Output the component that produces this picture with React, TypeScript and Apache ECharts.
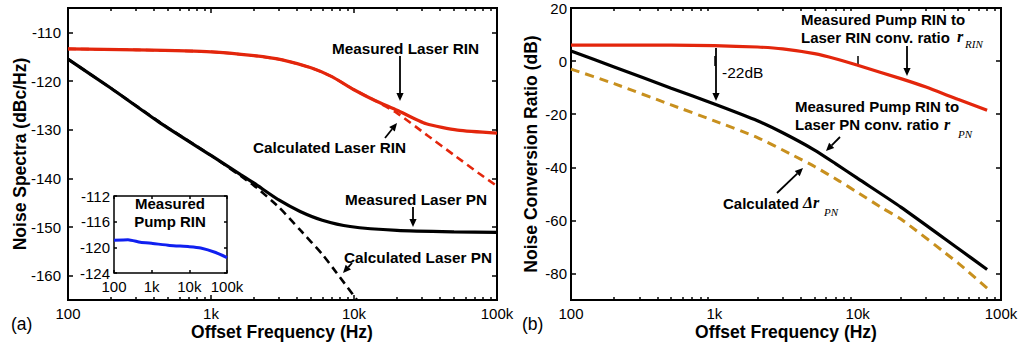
import React, { useEffect, useRef } from 'react';
import * as echarts from 'echarts';

// ---------- Axes ticks ----------
const freqTicks = [100, 1000, 10000, 100000];
const freqTickLabels = ['100', '1k', '10k', '100k'];
const freqMinor = [
  200, 300, 400, 500, 600, 700, 800, 900,
  2000, 3000, 4000, 5000, 6000, 7000, 8000, 9000,
  20000, 30000, 40000, 50000, 60000, 70000, 80000, 90000,
];
const leftYTicks = [-160, -150, -140, -130, -120, -110];
const insetYTicks = [-124, -120, -116, -112];
const rightYTicks = [-80, -60, -40, -20, 0, 20];

// ---------- Panel (a) data ----------
const rinMeasF = [100, 300, 1000, 2000, 3200, 5000, 7000, 10000, 14000, 20000, 32000, 53000, 100000];
const rinMeas = [-113.4, -113.6, -114, -114.8, -115.7, -117.3, -119.1, -121.8, -124, -126, -128.8, -130.1, -130.7];
const rinCalcF = [100, 300, 1000, 2000, 3200, 5000, 7000, 10000, 14000, 20000, 33000, 50000, 75000, 100000];
const rinCalc = [-113.4, -113.6, -114, -114.8, -115.7, -117.3, -119.1, -121.8, -124, -126.6, -131.3, -135.2, -139, -141.6];
const pnMeasF = [100, 200, 440, 1000, 1600, 2000, 3000, 4200, 6000, 9400, 20000, 50000, 100000];
const pnMeas = [-115.5, -121.5, -128.6, -135.3, -139.2, -141, -144.5, -146.8, -148.6, -149.9, -150.7, -151, -151.1];
const pnCalcF = [100, 200, 500, 1000, 2000, 3000, 4200, 6000, 7200, 10500];
const pnCalc = [-115.5, -121.5, -129.6, -135.3, -141.5, -146, -150.6, -155.6, -158.6, -165];
const pumpF = [100, 235, 500, 1070, 3000, 10000, 20000, 50000, 100000];
const pumpRin = [-118.9, -118.8, -119.2, -119.4, -119.7, -119.9, -120.1, -120.8, -121.6];

// ---------- Panel (b) data ----------
const rRinF = [100, 500, 1000, 2000, 3000, 5000, 7000, 10000, 20000, 30000, 50000, 80000];
const rRin = [6, 6, 5.8, 5.3, 4.6, 2.8, 0.9, -1.6, -6.6, -9.8, -14.4, -18.5];
const rPnF = [100, 200, 500, 1000, 2000, 3000, 5000, 7000, 10000, 20000, 50000, 80000];
const rPn = [3.8, -2.2, -10.2, -16.2, -22.5, -27, -33.5, -38.6, -44.2, -55, -70.5, -78.5];
const dPnF = [100, 200, 500, 1000, 2000, 3400, 5000, 7500, 10000, 15000, 20000, 50000, 80000];
const dPn = [-3, -8.5, -16.5, -22.5, -28.8, -35, -39.7, -45.3, -49.5, -55.5, -59.5, -76, -85.5];

const RED = '#e3260c';
const GOLD = '#c8901e';
const BLUE = '#1020f0';
const SANS = '"Liberation Sans", Arial, Helvetica, sans-serif';
const SERIF = '"Liberation Serif", "Times New Roman", serif';
const ANN_L = `bold 15.3px ${SANS}`;
const ANN_R = `bold 15px ${SANS}`;
const TITLE = `bold 17.5px ${SANS}`;

const lg = (v: number) => Math.log10(v);
const fmtFreq = (v: number) => {
  for (let i = 0; i < freqTicks.length; i++) {
    if (Math.abs(lg(freqTicks[i]) - v) < 1e-6) return freqTickLabels[i];
  }
  return '';
};
const pts = (f: number[], v: number[]) => f.map((x, i) => [lg(x), v[i]]);

function arrow(x1: number, y1: number, x2: number, y2: number) {
  const a = Math.atan2(y2 - y1, x2 - x1);
  const L = 8, W = 3.6;
  const bx = x2 - L * Math.cos(a), by = y2 - L * Math.sin(a);
  const px = -Math.sin(a) * W, py = Math.cos(a) * W;
  return [
    { type: 'line', z: 100, shape: { x1, y1, x2: bx, y2: by }, style: { stroke: '#000', lineWidth: 1.8 } },
    { type: 'polygon', z: 100, shape: { points: [[x2, y2], [bx + px, by + py], [bx - px, by - py]] }, style: { fill: '#000' } },
  ];
}

function txt(text: string, x: number, y: number, font = ANN_L, align = 'left', rotation = 0) {
  return {
    type: 'text', z: 100, x, y, rotation,
    style: { text, font, fill: '#000', align, verticalAlign: 'middle' },
  };
}

function buildOption() {
  const xAxes: any[] = [];
  const yAxes: any[] = [];
  const tickLine = { color: '#000', width: 1.5 };

  const addXSet = (grid: number, fontSize: number, margin: number, majorLen: number, minorLen: number, withMinor: boolean) => {
    const base = {
      type: 'value', gridIndex: grid, min: 2, max: 5, offset: 0,
      splitLine: { show: false }, axisLine: { show: false },
    };
    const majors = freqTicks.map(lg);
    const minors = freqMinor.map(lg);
    xAxes.push({
      ...base, position: 'bottom',
      axisLabel: { show: true, customValues: majors, formatter: fmtFreq, fontSize, fontFamily: SANS, color: '#000', margin },
      axisTick: { show: true, inside: true, length: majorLen, customValues: majors, lineStyle: tickLine },
    });
    const mainIdx = xAxes.length - 1;
    xAxes.push({
      ...base, position: 'top', axisLabel: { show: false },
      axisTick: { show: true, inside: true, length: majorLen, customValues: majors, lineStyle: tickLine },
    });
    if (withMinor) {
      xAxes.push({
        ...base, position: 'bottom', axisLabel: { show: false },
        axisTick: { show: true, inside: true, length: minorLen, customValues: minors, lineStyle: tickLine },
      });
      xAxes.push({
        ...base, position: 'top', axisLabel: { show: false },
        axisTick: { show: true, inside: true, length: minorLen, customValues: minors, lineStyle: tickLine },
      });
    }
    return mainIdx;
  };

  const addYSet = (grid: number, min: number, max: number, ticks: number[], fontSize: number, margin: number, len: number) => {
    const base = { type: 'value', gridIndex: grid, min, max, offset: 0, splitLine: { show: false }, axisLine: { show: false } };
    yAxes.push({
      ...base, position: 'left',
      axisLabel: { show: true, customValues: ticks, fontSize, fontFamily: SANS, color: '#000', margin },
      axisTick: { show: true, inside: true, length: len, customValues: ticks, lineStyle: tickLine },
    });
    const mainIdx = yAxes.length - 1;
    yAxes.push({
      ...base, position: 'right', axisLabel: { show: false },
      axisTick: { show: true, inside: true, length: len, customValues: ticks, lineStyle: tickLine },
    });
    return mainIdx;
  };

  const xL = addXSet(0, 15, 6, 5, 3, true);
  const yL = addYSet(0, -165, -105, leftYTicks, 15, 7, 5);
  const xI = addXSet(1, 15, 6, 3, 2, false);
  const yI = addYSet(1, -124, -112, insetYTicks, 15, 4, 3);
  const xR = addXSet(2, 15, 6, 5, 3, true);
  const yR = addYSet(2, -90, 20, rightYTicks, 15, 4, 5);

  const line = (name: string, data: number[][], xi: number, yi: number, color: string, width: number, dash?: number[]) => ({
    name, type: 'line', xAxisIndex: xi, yAxisIndex: yi, data, showSymbol: false,
    smooth: 0.2,
    lineStyle: { color, width, type: dash || 'solid', cap: 'butt' }, silent: true,
  });

  const series = [
    line('Measured Laser RIN', pts(rinMeasF, rinMeas), xL, yL, RED, 3.2),
    line('Calculated Laser RIN', pts(rinCalcF, rinCalc), xL, yL, RED, 2.6, [8, 5]),
    line('Measured Laser PN', pts(pnMeasF, pnMeas), xL, yL, '#000', 3.2),
    line('Calculated Laser PN', pts(pnCalcF, pnCalc), xL, yL, '#000', 2.6, [8, 5]),
    line('Measured Pump RIN', pts(pumpF, pumpRin), xI, yI, BLUE, 3),
    line('r_RIN', pts(rRinF, rRin), xR, yR, RED, 3.2),
    line('r_PN', pts(rPnF, rPn), xR, yR, '#000', 3.2),
    line('Delta r_PN', pts(dPnF, dPn), xR, yR, GOLD, 3, [9, 6]),
  ];

  const graphic: any[] = [
    // axis titles
    txt('Offset Frequency (Hz)', 282, 332, TITLE, 'center'),
    txt('Offset Frequency (Hz)', 786, 332, TITLE, 'center'),
    txt('Noise Spectra (dBc/Hz)', 20, 154, TITLE, 'center', Math.PI / 2),
    txt('Noise Conversion Ratio (dB)', 531, 154, TITLE, 'center', Math.PI / 2),
    txt('(a)', 11, 324, `17.5px ${SANS}`),
    txt('(b)', 522, 324, `17.5px ${SANS}`),
    // panel (a) annotations
    txt('Measured Laser RIN', 332, 48),
    txt('Calculated Laser RIN', 253, 147),
    txt('Measured Laser PN', 345, 199),
    txt('Calculated Laser PN', 344, 257),
    txt('Measured', 170, 203, `bold 15px ${SANS}`, 'center'),
    txt('Pump RIN', 170, 221, `bold 15px ${SANS}`, 'center'),
    ...arrow(400, 56, 400, 101),
    ...arrow(385, 138, 397, 123),
    ...arrow(413, 207, 413, 227),
    ...arrow(352, 263, 343, 273),
    // panel (b) annotations
    txt('-22dB', 722, 72, `15.5px ${SANS}`),
    txt('Measured Pump RIN to', 801, 19, ANN_R),
    txt('Laser RIN conv. ratio', 801, 37, ANN_R),
    txt('r', 957, 36, `italic bold 16px ${SERIF}`),
    txt('RIN', 965, 44, `italic 11px ${SERIF}`),
    txt('Measured Pump RIN to', 795, 106, ANN_R),
    txt('Laser PN conv. ratio', 795, 124, ANN_R),
    txt('r', 944, 124, `italic bold 16px ${SERIF}`),
    txt('PN', 958, 134, `italic 11px ${SERIF}`),
    txt('Calculated', 723, 203, ANN_R),
    txt('\u0394r', 803, 202, `italic bold 16px ${SERIF}`),
    txt('PN', 824, 212, `italic 11px ${SERIF}`),
    ...arrow(716, 48, 716, 101),
    ...arrow(907, 46, 907, 76),
    ...arrow(840, 137, 826, 151),
    ...arrow(777, 193, 803, 168),
  ];

  return {
    animation: false,
    backgroundColor: '#fff',
    grid: [
      { left: 68, top: 8, width: 429, height: 292, show: true, borderColor: '#000', borderWidth: 2, backgroundColor: 'transparent' },
      { left: 114, top: 196, width: 113, height: 77, show: true, borderColor: '#000', borderWidth: 1.5, backgroundColor: '#fff' },
      { left: 571, top: 8, width: 430, height: 292, show: true, borderColor: '#000', borderWidth: 2, backgroundColor: 'transparent' },
    ],
    xAxis: xAxes,
    yAxis: yAxes,
    series,
    graphic,
  };
}

export default function App() {
  const ref = useRef<HTMLDivElement>(null);
  useEffect(() => {
    const chart = echarts.init(ref.current!, null, { renderer: 'svg' });
    chart.setOption(buildOption() as any);
    return () => chart.dispose();
  }, []);
  return (
    <div
      ref={ref}
      style={{ position: 'fixed', left: 0, top: 0, width: 1021, height: 347, background: '#fff' }}
    />
  );
}
